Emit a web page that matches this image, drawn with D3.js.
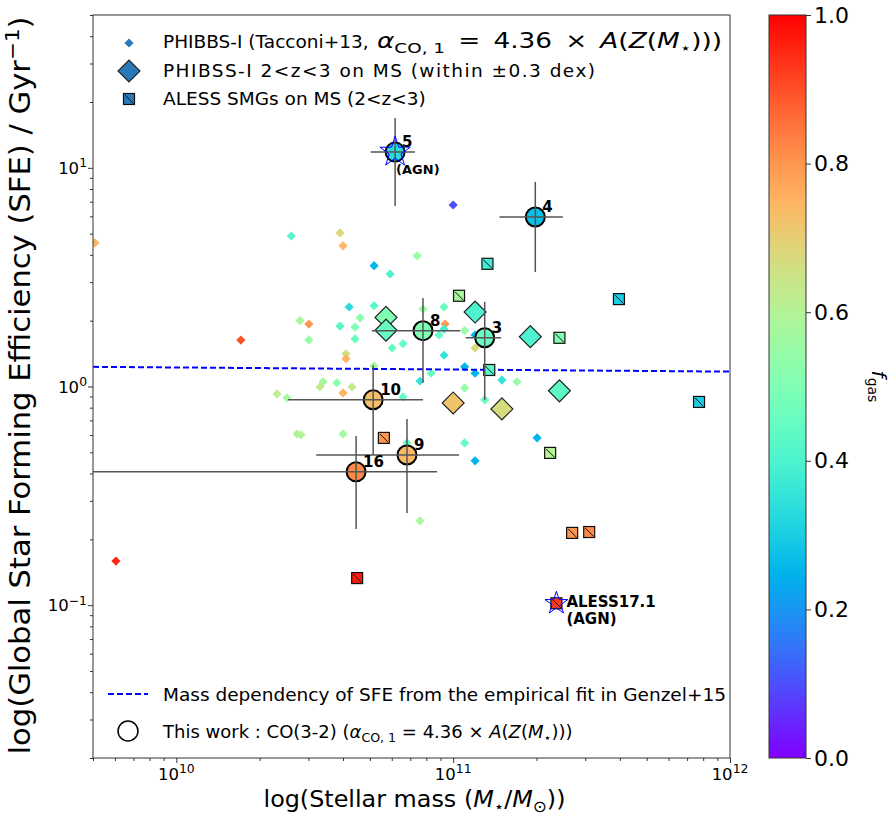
<!DOCTYPE html>
<html>
<head>
<meta charset="utf-8">
<script src="https://cdn.jsdelivr.net/npm/d3@7"></script>
<style>
body { margin: 0; background: #fff; }
text { font-family: "DejaVu Sans", sans-serif; }
</style>
</head>
<body>
<div id="chart"></div>
<script>
// PHIBBS-I (Tacconi+13) small diamonds
var phibbsM = [5.08e9, 2.60e10, 3.90e10, 4.00e10, 7.41e10, 5.18e10, 5.92e10, 1.00e11, 4.21e10, 5.18e10,
    2.80e10, 3.01e10, 3.90e10, 4.42e10, 4.61e10, 1.71e10, 3.01e10, 4.42e10, 6.02e10, 6.59e10,
    7.78e10, 9.27e10, 9.35e10, 9.27e10, 8.89e10, 1.10e11, 1.20e11, 1.20e11, 9.27e10, 1.10e11,
    1.20e11, 7.59e10, 8.32e10, 1.50e11, 1.70e11, 1.10e11, 6.59e10, 1.30e11, 2.01e11, 1.10e11,
    1.20e11, 6.81e10, 7.59e10, 4.10e10, 4.10e10, 5.18e10, 3.39e10, 3.30e10, 3.80e10, 4.31e10,
    4.00e10, 2.31e10, 2.51e10, 2.73e10, 2.82e10, 4.00e10, 6.05e9];
var phibbsSFE = [4.54, 4.88, 5.04, 4.40, 3.96, 3.57, 3.27, 6.76, 2.31, 2.34,
    2.00, 1.93, 1.89, 1.87, 2.06, 1.63, 1.63, 1.65, 1.50, 1.57,
    2.26, 2.31, 1.93, 1.83, 1.72, 1.80, 1.72, 1.50, 1.39, 1.23,
    1.15, 1.06, 1.15, 1.07, 1.05, 0.985, 0.896, 0.869, 0.582, 0.552,
    0.457, 0.552, 0.243, 1.41, 1.34, 1.24, 1.05, 0.995, 1.04, 0.995,
    0.935, 0.925, 0.887, 0.607, 0.601, 0.607, 0.159];
var phibbsF = [0.75, 0.42, 0.68, 0.75, 0.55, 0.25, 0.40, 0.10, 0.33, 0.42,
    0.58, 0.80, 0.42, 0.50, 0.52, 0.90, 0.55, 0.45, 0.45, 0.45,
    0.55, 0.45, 0.80, 0.38, 0.45, 0.55, 0.25, 0.68, 0.35, 0.25,
    0.25, 0.35, 0.45, 0.35, 0.55, 0.55, 0.45, 0.45, 0.25, 0.45,
    0.25, 0.45, 0.58, 0.65, 0.75, 0.58, 0.57, 0.63, 0.52, 0.63,
    0.75, 0.62, 0.57, 0.60, 0.60, 0.57, 0.95];

// PHIBSS-I 2<z<3 on MS, big diamonds
var msM = [5.72e10, 5.72e10, 1.20e11, 1.90e11, 1.00e11, 1.50e11, 2.42e11];
var msSFE = [2.07, 1.81, 2.19, 1.69, 0.841, 0.790, 0.955];
var msF = [0.50, 0.45, 0.40, 0.40, 0.72, 0.67, 0.43];

// ALESS SMGs on MS
var alessM = [1.33e11, 1.05e11, 3.97e11, 2.42e11, 1.35e11, 7.73e11, 2.24e11, 5.62e10, 2.69e11, 3.10e11, 4.50e10, 2.36e11];
var alessSFE = [3.64, 2.60, 2.51, 1.67, 1.19, 0.85, 0.497, 0.582, 0.214, 0.216, 0.133, 0.102];
var alessF = [0.38, 0.58, 0.30, 0.50, 0.42, 0.30, 0.60, 0.80, 0.80, 0.82, 0.97, 0.93];

// This work, CO(3-2)
var workID = ["5", "4", "8", "3", "10", "9", "16"];
var workM = [6.17e10, 1.98e11, 7.78e10, 1.30e11, 5.14e10, 6.81e10, 4.46e10];
var workSFE = [11.8, 5.96, 1.80, 1.67, 0.869, 0.486, 0.407];
var workF = [0.33, 0.27, 0.50, 0.45, 0.73, 0.74, 0.82];
var workMlo = [5.04e10, 1.47e11, 5.09e10, 1.11e11, 2.53e10, 3.20e10, 4.0e9];
var workMhi = [7.28e10, 2.49e11, 1.06e11, 1.49e11, 7.78e10, 1.05e11, 8.75e10];
var workSFElo = [6.69, 3.34, 1.04, 0.869, 0.486, 0.264, 0.223];
var workSFEhi = [16.9, 8.62, 2.54, 2.44, 1.25, 0.711, 0.594];

// Genzel+15 mass dependency
var genzelM = [5e9, 1e12];
var genzelSFE = [1.23, 1.17];

var xMajor = [1e10, 1e11, 1e12];
var xMajorExp = ["10", "11", "12"];
var yMajor = [0.1, 1, 10];
var yMajorExp = ["\u22121", "0", "1"];
var cbarTicks = [0, 0.2, 0.4, 0.6, 0.8, 1.0];

var W = 894, H = 816;
var margin = {top: 15, left: 93};
var width = 637, height = 743;

function rainbow(t) {
    var r = Math.min(1, Math.abs(2 * t - 0.5));
    var g = Math.sin(Math.PI * t);
    var b = Math.cos(Math.PI * t / 2);
    return d3.rgb(r * 255, g * 255, b * 255).formatHex();
}

// text with italic / sub / sup pieces
function rich(sel, parts, size, small) {
    var shift = 0;
    small = small || 0.7;
    parts.forEach(function(p) {
        var t = sel.append("tspan").text(p[0]);
        var target = 0;
        if (p[1] == "sub") target = size * 0.22;
        if (p[1] == "sup") target = -size * 0.4;
        if (target - shift != 0) t.attr("dy", target - shift);
        shift = target;
        if (p[1] == "sub" || p[1] == "sup") t.style("font-size", (size * small) + "px");
        if (p[1] == "i") t.style("font-style", "italic");
    });
}

var svg0 = d3.select("#chart").append("svg")
    .attr("width", W)
    .attr("height", H);

var svg = svg0.append("g")
    .attr("transform", "translate(" + margin.left + "," + margin.top + ")");

var x = d3.scaleLog().domain([5e9, 1e12]).range([0, width]);
var y = d3.scaleLog().domain([0.02, 50]).range([height, 0]);

svg0.append("defs").append("clipPath").attr("id", "clip")
    .append("rect").attr("width", width).attr("height", height);

var plot = svg.append("g").attr("clip-path", "url(#clip)");

// small diamonds
var diamondSmall = d3.symbol().type(d3.symbolSquare).size(42);
plot.selectAll(".phibbs")
    .data(phibbsM)
    .enter()
    .append("path")
    .attr("class", "phibbs")
    .attr("d", diamondSmall)
    .attr("transform", function(d, i) { return "translate(" + x(d) + "," + y(phibbsSFE[i]) + ")rotate(45)"; })
    .style("fill", function(d, i) { return rainbow(phibbsF[i]); });

// Genzel line
plot.append("path")
    .datum(genzelM)
    .attr("fill", "none")
    .attr("stroke", "#0000ff")
    .attr("stroke-width", 2)
    .attr("stroke-dasharray", "6,3")
    .attr("d", d3.line()
        .x(function(d) { return x(d); })
        .y(function(d, i) { return y(genzelSFE[i]); }));

// big diamonds
var diamondBig = d3.symbol().type(d3.symbolSquare).size(240);
plot.selectAll(".ms")
    .data(msM)
    .enter()
    .append("path")
    .attr("class", "ms")
    .attr("d", diamondBig)
    .attr("transform", function(d, i) { return "translate(" + x(d) + "," + y(msSFE[i]) + ")rotate(45)"; })
    .style("fill", function(d, i) { return rainbow(msF[i]); })
    .style("stroke", "#222")
    .style("stroke-width", 1.2);

// ALESS squares with hatch
function drawSquare(g, cx, cy, col) {
    var s = 11;
    g.append("rect")
        .attr("x", cx - s / 2).attr("y", cy - s / 2)
        .attr("width", s).attr("height", s)
        .style("fill", col)
        .style("stroke", "#111")
        .style("stroke-width", 1.2);
    g.append("line")
        .attr("x1", cx - s / 2 + 1.5).attr("y1", cy - s / 2 + 1.5)
        .attr("x2", cx + s / 2 - 1).attr("y2", cy + s / 2 - 1)
        .style("stroke", "#111")
        .style("stroke-width", 1);
}
alessM.forEach(function(d, i) {
    drawSquare(plot, x(d), y(alessSFE[i]), rainbow(alessF[i]));
});

// this work circles
plot.selectAll(".work")
    .data(workM)
    .enter()
    .append("circle")
    .attr("class", "work")
    .attr("cx", function(d) { return x(d); })
    .attr("cy", function(d, i) { return y(workSFE[i]); })
    .attr("r", 9.5)
    .style("fill", function(d, i) { return rainbow(workF[i]); })
    .style("stroke", "#000")
    .style("stroke-width", 2);

// error bars + id labels
workM.forEach(function(d, i) {
    plot.append("line")
        .attr("x1", x(workMlo[i])).attr("x2", x(workMhi[i]))
        .attr("y1", y(workSFE[i])).attr("y2", y(workSFE[i]))
        .style("stroke", "#555").style("stroke-width", 1.5);
    plot.append("line")
        .attr("x1", x(d)).attr("x2", x(d))
        .attr("y1", y(workSFElo[i])).attr("y2", y(workSFEhi[i]))
        .style("stroke", "#555").style("stroke-width", 1.5);
    svg.append("text")
        .attr("x", x(d) + 7)
        .attr("y", y(workSFE[i]) - 5)
        .style("font-size", "15px")
        .style("font-weight", "bold")
        .text(workID[i]);
});

// AGN stars
var starBig = d3.symbol().type(d3.symbolStar).size(16 * 16 / 0.8908);
var starSmall = d3.symbol().type(d3.symbolStar).size(12 * 12 / 0.8908);
plot.append("path")
    .attr("d", starBig)
    .attr("transform", "translate(" + x(workM[0]) + "," + y(workSFE[0]) + ")")
    .style("fill", "none").style("stroke", "#0000ff").style("stroke-width", 1);
plot.append("path")
    .attr("d", starSmall)
    .attr("transform", "translate(" + x(alessM[11]) + "," + y(alessSFE[11]) + ")")
    .style("fill", "none").style("stroke", "#0000ff").style("stroke-width", 1);

svg.append("text")
    .attr("x", x(workM[0]) + 1).attr("y", y(workSFE[0]) + 22)
    .style("font-size", "13px").style("font-weight", "bold")
    .text("(AGN)");
svg.append("text")
    .attr("x", x(alessM[11]) + 10).attr("y", y(alessSFE[11]) + 4)
    .style("font-size", "15px").style("font-weight", "bold")
    .text("ALESS17.1");
svg.append("text")
    .attr("x", x(alessM[11]) + 10).attr("y", y(alessSFE[11]) + 21)
    .style("font-size", "15px").style("font-weight", "bold")
    .text("(AGN)");

// axes
var axisCol = "#333";
var xMinor = x.ticks().filter(function(d) { return xMajor.indexOf(d) < 0; });
var yMinor = y.ticks().filter(function(d) { return yMajor.indexOf(d) < 0; });

function tickLines(axis) {
    return function(g) {
        g.call(axis);
        g.select(".domain").remove();
        g.selectAll("line").style("stroke", axisCol);
    };
}
svg.append("g").attr("transform", "translate(0," + height + ")")
    .call(tickLines(d3.axisBottom(x).tickValues(xMajor).tickSize(5).tickFormat("")));
svg.append("g").attr("transform", "translate(0," + height + ")")
    .call(tickLines(d3.axisBottom(x).tickValues(xMinor).tickSize(3).tickFormat("")));
svg.append("g")
    .call(tickLines(d3.axisLeft(y).tickValues(yMajor).tickSize(5).tickFormat("")));
svg.append("g")
    .call(tickLines(d3.axisLeft(y).tickValues(yMinor).tickSize(3).tickFormat("")));

xMajor.forEach(function(d, i) {
    var t = svg.append("text")
        .attr("x", x(d)).attr("y", height + 22)
        .attr("text-anchor", "middle")
        .style("font-size", "16.5px");
    rich(t, [["10", "n"], [xMajorExp[i], "sup"]], 16.5, 0.75);
});
yMajor.forEach(function(d, i) {
    var t = svg.append("text")
        .attr("x", -6).attr("y", y(d) + 6)
        .attr("text-anchor", "end")
        .style("font-size", "16.5px");
    rich(t, [["10", "n"], [yMajorExp[i], "sup"]], 16.5, 0.75);
});

svg.append("rect")
    .attr("width", width).attr("height", height)
    .style("fill", "none").style("stroke", axisCol).style("stroke-width", 1);

// axis labels
var xl = svg.append("text")
    .attr("x", width / 2 + 3).attr("y", height + 49)
    .attr("text-anchor", "middle")
    .attr("textLength", 302)
    .attr("lengthAdjust", "spacingAndGlyphs")
    .style("font-size", "23px");
rich(xl, [["log(Stellar mass (", "n"], ["M", "i"], ["\u22c6", "sub"], ["/", "n"], ["M", "i"], ["\u2299", "sub"], ["))", "n"]], 23);

var yl = svg.append("text")
    .attr("transform", "translate(" + (-63) + "," + (height / 2 - 1) + ")rotate(-90)")
    .attr("text-anchor", "middle")
    .attr("textLength", 738)
    .attr("lengthAdjust", "spacingAndGlyphs")
    .style("font-size", "28px");
rich(yl, [["log(Global Star Forming Efficiency (SFE) / Gyr", "n"], ["\u22121", "sup"], [")", "n"]], 28);

// legend (top)
var legCol = "#2a7ab9";
var lfs = 18.5;
var lg = svg.append("g");
lg.append("path")
    .attr("d", diamondSmall)
    .attr("transform", "translate(36,28)rotate(45)")
    .style("fill", legCol);
lg.append("path")
    .attr("d", diamondBig)
    .attr("transform", "translate(36,56)rotate(45)")
    .style("fill", legCol).style("stroke", "#222").style("stroke-width", 1.2);
drawSquare(lg, 36, 84, legCol);

lg.append("text").attr("x", 70).attr("y", 33).style("font-size", lfs + "px")
    .text("PHIBBS-I (Tacconi+13,");
var lt1 = lg.append("text").attr("x", 284).attr("y", 33).style("font-size", "21px")
    .attr("textLength", 345).attr("lengthAdjust", "spacingAndGlyphs");
rich(lt1, [["\u03b1", "i"], ["CO, 1", "sub"], ["\u2002=\u20024.36\u2002\u00d7\u2002", "n"], ["A", "i"], ["(", "n"], ["Z", "i"], ["(", "n"], ["M", "i"], ["\u22c6", "sub"], [")))", "n"]], 21);
lg.append("text").attr("x", 70).attr("y", 62).style("font-size", lfs + "px")
    .attr("textLength", 432).attr("lengthAdjust", "spacing")
    .text("PHIBSS-I 2<z<3 on MS (within \u00b10.3 dex)");
lg.append("text").attr("x", 70).attr("y", 90).style("font-size", lfs + "px")
    .text("ALESS SMGs on MS (2<z<3)");

// legend (bottom)
lg.append("line")
    .attr("x1", 15).attr("x2", 55).attr("y1", 679).attr("y2", 679)
    .style("stroke", "#0000ff").style("stroke-width", 2).style("stroke-dasharray", "6,3");
lg.append("text").attr("x", 70).attr("y", 686).style("font-size", lfs + "px")
    .text("Mass dependency of SFE from the empirical fit in Genzel+15");
lg.append("circle")
    .attr("cx", 35).attr("cy", 716).attr("r", 10)
    .style("fill", "none").style("stroke", "#000").style("stroke-width", 1.5);
var lt5 = lg.append("text").attr("x", 70).attr("y", 723).style("font-size", "18px");
rich(lt5, [["This work : CO(3-2) (", "n"], ["\u03b1", "i"], ["CO, 1", "sub"], [" = 4.36 \u00d7 ", "n"], ["A", "i"], ["(", "n"], ["Z", "i"], ["(", "n"], ["M", "i"], ["\u22c6", "sub"], [")))", "n"]], 18);

// colorbar
var cbX = 769, cbW = 37;
var grad = svg0.select("defs").append("linearGradient")
    .attr("id", "rainbow")
    .attr("x1", 0).attr("y1", 1).attr("x2", 0).attr("y2", 0);
d3.range(0, 1.0001, 0.05).forEach(function(t) {
    grad.append("stop").attr("offset", t).attr("stop-color", rainbow(t));
});
var cy = d3.scaleLinear().domain([0, 1]).range([margin.top + height, margin.top]);
svg0.append("rect")
    .attr("x", cbX).attr("y", margin.top)
    .attr("width", cbW).attr("height", height)
    .style("fill", "url(#rainbow)")
    .style("stroke", axisCol).style("stroke-width", 1);
var cbAxis = svg0.append("g")
    .attr("transform", "translate(" + (cbX + cbW) + ",0)")
    .call(d3.axisRight(cy).tickValues(cbarTicks).tickSize(5).tickFormat(d3.format(".1f")));
cbAxis.select(".domain").remove();
cbAxis.selectAll("line").style("stroke", axisCol);
cbAxis.selectAll("text")
    .style("font-family", "DejaVu Sans")
    .style("font-size", "22px")
    .attr("x", 8)
    .style("fill", "#000");

var fl = svg0.append("text")
    .attr("transform", "translate(872," + (margin.top + height / 2) + ")rotate(90)")
    .attr("text-anchor", "middle")
    .style("font-size", "20px");
rich(fl, [["f", "i"], ["gas", "sub"]], 20);
</script>
</body>
</html>
